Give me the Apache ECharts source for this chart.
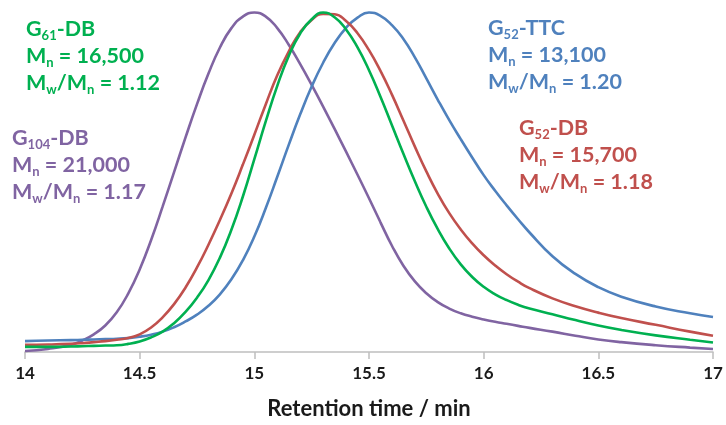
<!DOCTYPE html>
<html>
<head>
<meta charset="utf-8">
<script src="https://cdn.jsdelivr.net/npm/echarts@6/dist/echarts.min.js"></script>
<style>
  html, body { margin: 0; padding: 0; background: #fff; }
  #chart { width: 726px; height: 425px; }
</style>
</head>
<body>
<div id="chart"></div>
<script>
// Retention times (min) at which the normalised detector traces are sampled
const times = [14.0, 14.1, 14.2,
  14.25, 14.30, 14.35, 14.40, 14.45, 14.50, 14.55, 14.60, 14.65, 14.70,
  14.75, 14.80, 14.85, 14.90, 14.95, 15.00, 15.05, 15.10, 15.15, 15.20,
  15.25, 15.30, 15.35, 15.40, 15.45, 15.50, 15.55, 15.60, 15.65, 15.70,
  15.75, 15.80, 15.85, 15.90, 15.95, 16.00, 16.05, 16.10, 16.15, 16.20,
  16.3, 16.4, 16.5, 16.6, 16.75, 16.9, 17.0];

// Normalised SEC traces (peak = 1)
const g104DB = [0.003, 0.009, 0.021,
  0.034, 0.052, 0.078, 0.117, 0.172, 0.243, 0.330, 0.428, 0.530, 0.632,
  0.730, 0.820, 0.897, 0.954, 0.988, 1.000, 0.988, 0.954, 0.905, 0.848,
  0.787, 0.723, 0.657, 0.590, 0.522, 0.453, 0.382, 0.313, 0.254, 0.208,
  0.173, 0.147, 0.128, 0.114, 0.104, 0.096, 0.089, 0.083, 0.077, 0.071,
  0.060, 0.048, 0.037, 0.029, 0.020, 0.013, 0.009];
const g61DB = [0.015, 0.015, 0.016,
  0.017, 0.018, 0.019, 0.020, 0.024, 0.031, 0.043, 0.060, 0.085, 0.118,
  0.160, 0.212, 0.278, 0.360, 0.458, 0.568, 0.680, 0.784, 0.872, 0.938,
  0.980, 1.000, 0.986, 0.950, 0.897, 0.830, 0.752, 0.668, 0.584, 0.503,
  0.428, 0.362, 0.305, 0.258, 0.221, 0.192, 0.170, 0.153, 0.139, 0.128,
  0.111, 0.094, 0.078, 0.065, 0.049, 0.036, 0.028];
const g52DB = [0.021, 0.022, 0.024,
  0.026, 0.029, 0.032, 0.036, 0.041, 0.052, 0.072, 0.102, 0.141, 0.190,
  0.249, 0.316, 0.389, 0.467, 0.552, 0.640, 0.730, 0.815, 0.885, 0.942,
  0.978, 0.996, 0.995, 0.975, 0.939, 0.889, 0.828, 0.758, 0.682, 0.605,
  0.532, 0.466, 0.409, 0.361, 0.320, 0.285, 0.255, 0.229, 0.207, 0.188,
  0.158, 0.135, 0.116, 0.100, 0.080, 0.060, 0.048];
const g52TTC = [0.032, 0.034, 0.035,
  0.036, 0.037, 0.038, 0.039, 0.041, 0.045, 0.051, 0.060, 0.073, 0.090,
  0.110, 0.136, 0.170, 0.214, 0.270, 0.340, 0.424, 0.516, 0.610, 0.700,
  0.782, 0.852, 0.910, 0.955, 0.985, 1.000, 0.990, 0.963, 0.922, 0.868,
  0.806, 0.743, 0.683, 0.627, 0.573, 0.521, 0.475, 0.432, 0.391, 0.352,
  0.282, 0.230, 0.191, 0.163, 0.134, 0.114, 0.103];

// Sample annotations: [name, subscript, suffix, Mn, Mw/Mn]
const labelG61  = ['G', '61', '-DB', '16,500', '1.12'];
const labelG104 = ['G', '104', '-DB', '21,000', '1.17'];
const labelG52T = ['G', '52', '-TTC', '13,100', '1.20'];
const labelG52D = ['G', '52', '-DB', '15,700', '1.18'];

const xTicks = { min: 14, max: 17, step: 0.5 };
const xTitle = 'Retention time / min';

const COLORS = { purple: '#8064a2', green: '#00b050', red: '#c0504d', blue: '#4f81bd' };
const FONT = 'Lato, "Open Sans", sans-serif';

function pairs(values) {
  return times.map((t, i) => [t, values[i]]);
}

function trace(name, values, color) {
  return {
    name: name,
    type: 'line',
    data: pairs(values),
    smooth: 0.5,
    showSymbol: false,
    clip: false,
    lineStyle: { color: color, width: 2.6 },
    itemStyle: { color: color },
    silent: true
  };
}

function richLabel(lbl, color, x, y) {
  const [base, sub, suffix, mn, pdi] = lbl;
  const text = [
    '{m|' + base + '}{s|' + sub + '}{m|' + suffix + '}',
    '{m|M}{s|n}{m| = ' + mn + '}',
    '{m|M}{s|w}{m|/M}{s|n}{m| = ' + pdi + '}'
  ].join('\n');
  return {
    type: 'text',
    left: x,
    top: y,
    silent: true,
    style: {
      text: text,
      fill: color,
      font: 'bold 21.5px ' + FONT,
      rich: {
        m: { fontFamily: FONT, fontWeight: 'bold', fontSize: 21.5, lineHeight: 27, fill: color, color: color },
        s: { fontFamily: FONT, fontWeight: 'bold', fontSize: 13, lineHeight: 13, verticalAlign: 'bottom', fill: color, color: color }
      }
    }
  };
}

const chart = echarts.init(document.getElementById('chart'), null, { renderer: 'canvas' });

chart.setOption({
  animation: false,
  backgroundColor: '#ffffff',
  grid: { left: 25, right: 13, top: 12.5, bottom: 72, containLabel: false },
  xAxis: {
    type: 'value',
    min: xTicks.min,
    max: xTicks.max,
    interval: xTicks.step,
    name: xTitle,
    nameLocation: 'middle',
    nameGap: 46,
    nameTextStyle: { fontFamily: FONT, fontWeight: 'bold', fontSize: 22, color: '#1a1a1a' },
    axisLine: { show: true, lineStyle: { color: '#bfbfbf', width: 1.5 } },
    axisTick: { show: true, inside: false, length: 7, lineStyle: { color: '#bfbfbf', width: 1.5 } },
    axisLabel: { fontFamily: FONT, fontWeight: 'bold', fontSize: 17, color: '#1a1a1a', margin: 13 },
    splitLine: { show: false }
  },
  yAxis: {
    type: 'value',
    min: 0,
    max: 1,
    show: false
  },
  series: [
    trace('G104-DB', g104DB, COLORS.purple),
    trace('G52-TTC', g52TTC, COLORS.blue),
    trace('G52-DB', g52DB, COLORS.red),
    trace('G61-DB', g61DB, COLORS.green)
  ],
  graphic: [
    richLabel(labelG61,  COLORS.green,  26, 18),
    richLabel(labelG104, COLORS.purple, 12, 127),
    richLabel(labelG52T, COLORS.blue,   488, 17),
    richLabel(labelG52D, COLORS.red,    519, 117)
  ]
});
</script>
</body>
</html>
